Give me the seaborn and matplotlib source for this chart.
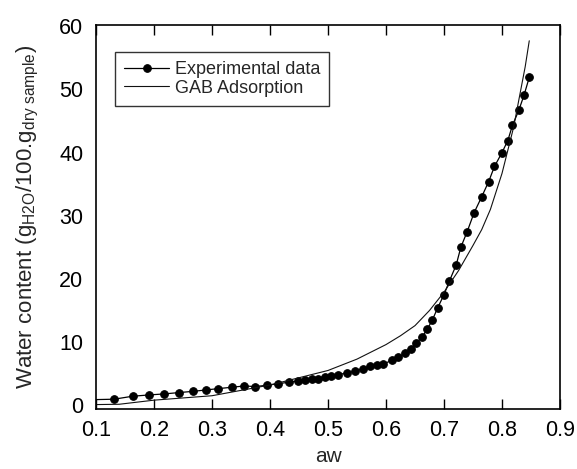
import matplotlib
matplotlib.use('Agg')
import matplotlib.pyplot as plt
import seaborn as sns

# Experimental sorption data (aw, water content)
aw_exp = [0.08, 0.131, 0.163, 0.192, 0.218, 0.243, 0.268, 0.290, 0.311, 0.334, 0.356,
          0.374, 0.395, 0.414, 0.433, 0.449, 0.460, 0.472, 0.483, 0.495, 0.506,
          0.518, 0.532, 0.547, 0.561, 0.572, 0.584, 0.595, 0.610, 0.621, 0.633,
          0.643, 0.652, 0.662, 0.671, 0.680, 0.689, 0.700, 0.709, 0.721, 0.729,
          0.740, 0.752, 0.765, 0.777, 0.787, 0.800, 0.810, 0.818, 0.829, 0.838, 0.847]
w_exp = [0.85, 0.95, 1.42, 1.63, 1.79, 2.0, 2.2, 2.42, 2.63, 2.84, 3.05,
         2.95, 3.16, 3.4, 3.65, 3.85, 4.0, 4.1, 4.2, 4.4, 4.6,
         4.85, 5.1, 5.4, 5.8, 6.15, 6.4, 6.5, 7.1, 7.6, 8.2,
         8.9, 9.8, 10.8, 12.0, 13.5, 15.4, 17.5, 19.6, 22.2, 25.0,
         27.5, 30.5, 33.0, 35.4, 37.8, 40.0, 41.9, 44.3, 46.7, 49.1, 51.9]

# GAB adsorption model curve
aw_gab = [0.10, 0.14, 0.20, 0.30, 0.40, 0.50, 0.55, 0.60, 0.625, 0.65, 0.675, 0.70,
          0.725, 0.75, 0.765, 0.78, 0.80, 0.82, 0.84, 0.847]
w_gab = [0.1, 0.15, 0.8, 1.5, 3.2, 5.5, 7.3, 9.6, 11.0, 12.6, 15.0, 17.9,
         21.3, 25.3, 27.8, 31.0, 36.7, 44.0, 53.6, 57.7]

x_ticks = [0.1, 0.2, 0.3, 0.4, 0.5, 0.6, 0.7, 0.8, 0.9]
x_tick_labels = ['0.1', '0.2', '0.3', '0.4', '0.5', '0.6', '0.7', '0.8', '0.9']
y_ticks = [0, 10, 20, 30, 40, 50, 60]

sns.set_style('white')
plt.rcParams['font.family'] = ['Liberation Sans', 'DejaVu Sans']
plt.rcParams['mathtext.fontset'] = 'custom'
plt.rcParams['mathtext.rm'] = 'Liberation Sans'
plt.rcParams['mathtext.it'] = 'Liberation Sans:italic'
plt.rcParams['mathtext.bf'] = 'Liberation Sans:bold'

W, H = 577, 469
fig = plt.figure(figsize=(W / 100, H / 100), dpi=100)
ax = fig.add_axes([96 / W, 1 - 409 / H, (560 - 96) / W, (409 - 25) / H])

sns.lineplot(x=aw_exp, y=w_exp, ax=ax, color='black', marker='o', markersize=5.5,
             markeredgecolor='black', linewidth=0.9, label='Experimental data', sort=False)
sns.lineplot(x=aw_gab, y=w_gab, ax=ax, color='#111111', linewidth=0.8,
             label='GAB Adsorption', sort=False)

ax.set_xlim(0.1, 0.9)
ax.set_ylim(-0.6, 60.2)
ax.set_xticks(x_ticks)
ax.set_xticklabels(x_tick_labels)
ax.set_yticks(y_ticks)

ax.tick_params(axis='x', direction='in', length=7, width=1, top=True, bottom=True,
               labelsize=15.5, pad=8, colors='black')
ax.tick_params(axis='y', length=0, labelsize=15.5, pad=9, colors='black')

for s in ax.spines.values():
    s.set_visible(True)
    s.set_color('black')
    s.set_linewidth(1.2)

ax.set_xlabel('aw', fontsize=15, labelpad=4)
ax.set_ylabel(r'Water content (g$_{\mathrm{H2O}}$/100.g$_{\mathrm{dry\ sample}}$)',
              fontsize=16, labelpad=13)

leg = ax.legend(loc='upper left', bbox_to_anchor=(0.041, 0.930), borderaxespad=0,
                fontsize=13, frameon=True, fancybox=False, edgecolor='black',
                handlelength=2.5, handletextpad=0.3, labelspacing=0.1, borderpad=0.5)
leg.get_frame().set_linewidth(1.0)

fig.savefig('out.png', dpi=100)
